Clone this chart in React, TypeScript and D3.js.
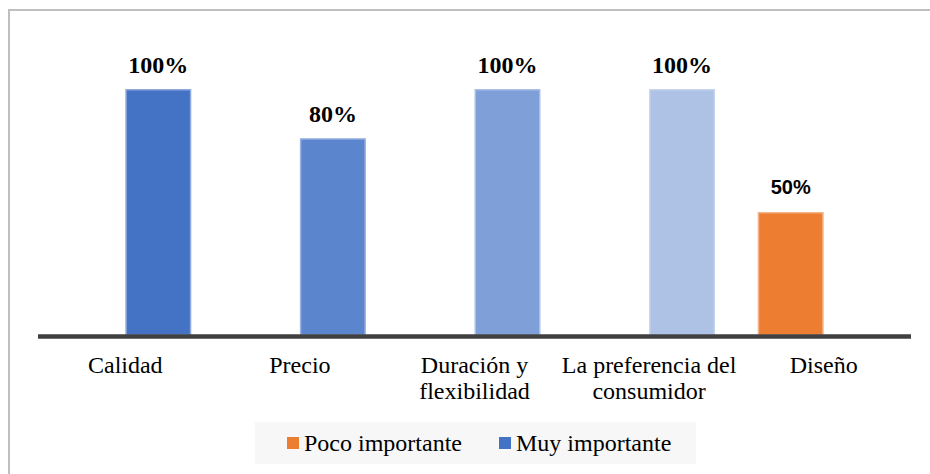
import { useEffect, useRef } from 'react'
import * as d3 from 'd3'

// chart data
const categories = ['Calidad', 'Precio', 'Duración y flexibilidad', 'La preferencia del consumidor', 'Diseño']
const categoryLines = [['Calidad'], ['Precio'], ['Duración y', 'flexibilidad'], ['La preferencia del', 'consumidor'], ['Diseño']]
const seriesNames = ['Poco importante', 'Muy importante']
const pocoImportante = [null, null, null, null, 0.5]
const muyImportante = [1, 0.8, 1, 1, null]

// per-point colours (varied shading in the original)
const muyColors = ['#4472c4', '#5b85cd', '#7f9fd8', '#adc2e5', '#4472c4']
const muyStrokes = ['#8eaadc', '#97b0e0', '#a9bfe6', '#c5d4ee', '#8eaadc']
const pocoColor = '#ed7d31'
const pocoStroke = '#f4b183'

const SERIF = 'Liberation Serif'
const SANS = 'Liberation Sans'

const App = () => {
    const ref = useRef<SVGSVGElement>(null)

    useEffect(() => {
        const width = 930
        const height = 474
        const svg = d3.select(ref.current)
        svg.selectAll('*').remove()

        // outer frame (only top & left visible in the crop)
        svg.append('path')
            .attr('d', `M9,${height} L9,10 L${width},10`)
            .attr('fill', 'none')
            .attr('stroke', '#bfbfbf')
            .attr('stroke-width', 2)

        const x0 = d3.scaleBand<string>().domain(categories).range([38, 911]).paddingInner(0).paddingOuter(0)
        const x1 = d3.scaleBand<string>().domain(seriesNames).range([0, x0.bandwidth()]).paddingInner(0).paddingOuter(0.323)
        const y = d3.scaleLinear().domain([0, 1]).range([335, 89])

        const rows = categories.map((c, i) => ({
            cat: c,
            vals: [
                { s: seriesNames[0], v: pocoImportante[i], fill: pocoColor, stroke: pocoStroke, i },
                { s: seriesNames[1], v: muyImportante[i], fill: muyColors[i], stroke: muyStrokes[i], i },
            ].filter((d) => d.v != null),
        }))

        const g = svg.append('g')
            .selectAll('g')
            .data(rows)
            .join('g')
            .attr('transform', (d) => `translate(${x0(d.cat)},0)`)

        g.selectAll('rect')
            .data((d) => d.vals)
            .join('rect')
            .attr('x', (d) => (x1(d.s) as number) + 0.75)
            .attr('width', x1.bandwidth() - 1.5)
            .attr('y', (d) => y(d.v as number) + 0.75)
            .attr('height', (d) => y(0) - y(d.v as number) - 0.75)
            .attr('fill', (d) => d.fill)
            .attr('stroke', (d) => d.stroke)
            .attr('stroke-width', 1.5)

        // value labels
        g.selectAll('text.val')
            .data((d) => d.vals)
            .join('text')
            .attr('class', 'val')
            .attr('x', (d) => (x1(d.s) as number) + x1.bandwidth() / 2)
            .attr('y', (d) => y(d.v as number) - (d.s === seriesNames[0] ? 18 : 16))
            .attr('text-anchor', 'middle')
            .attr('font-weight', 'bold')
            .attr('font-family', (d) => (d.s === seriesNames[0] ? SANS : SERIF))
            .attr('font-size', (d) => (d.s === seriesNames[0] ? 20 : 24))
            .attr('fill', '#000')
            .text((d) => d3.format('.0%')(d.v as number))

        // x axis line
        svg.append('line')
            .attr('x1', x0.range()[0])
            .attr('x2', x0.range()[1])
            .attr('y1', 336.5)
            .attr('y2', 336.5)
            .attr('stroke', '#404040')
            .attr('stroke-width', 4.5)

        // category labels
        const labels = svg.append('g')
            .attr('font-family', SERIF)
            .attr('font-size', 24)
            .attr('fill', '#000')
            .attr('text-anchor', 'middle')
        categories.forEach((c, i) => {
            const cx = (x0(c) as number) + x0.bandwidth() / 2
            labels.append('text')
                .selectAll('tspan')
                .data(categoryLines[i])
                .join('tspan')
                .attr('x', cx)
                .attr('y', (d, j) => 373 + j * 26)
                .text((d) => d)
        })

        // legend
        const legend = svg.append('g')
        legend.append('rect')
            .attr('x', 255)
            .attr('y', 422)
            .attr('width', 441)
            .attr('height', 42)
            .attr('fill', '#f7f7f7')
        const items = [
            { name: seriesNames[0], color: pocoColor, x: 287 },
            { name: seriesNames[1], color: muyColors[0], x: 499 },
        ]
        const li = legend.selectAll('g').data(items).join('g')
        li.append('rect')
            .attr('x', (d) => d.x)
            .attr('y', 437)
            .attr('width', 12)
            .attr('height', 12)
            .attr('fill', (d) => d.color)
        li.append('text')
            .attr('x', (d) => d.x + 17)
            .attr('y', 451)
            .attr('font-family', SERIF)
            .attr('font-size', 24)
            .attr('fill', '#000')
            .text((d) => d.name)
    }, [])

    return (
        <svg
            ref={ref}
            width={930}
            height={474}
            style={{ position: 'absolute', left: 0, top: 0, background: '#fff' }}
        />
    )
}

export default App
